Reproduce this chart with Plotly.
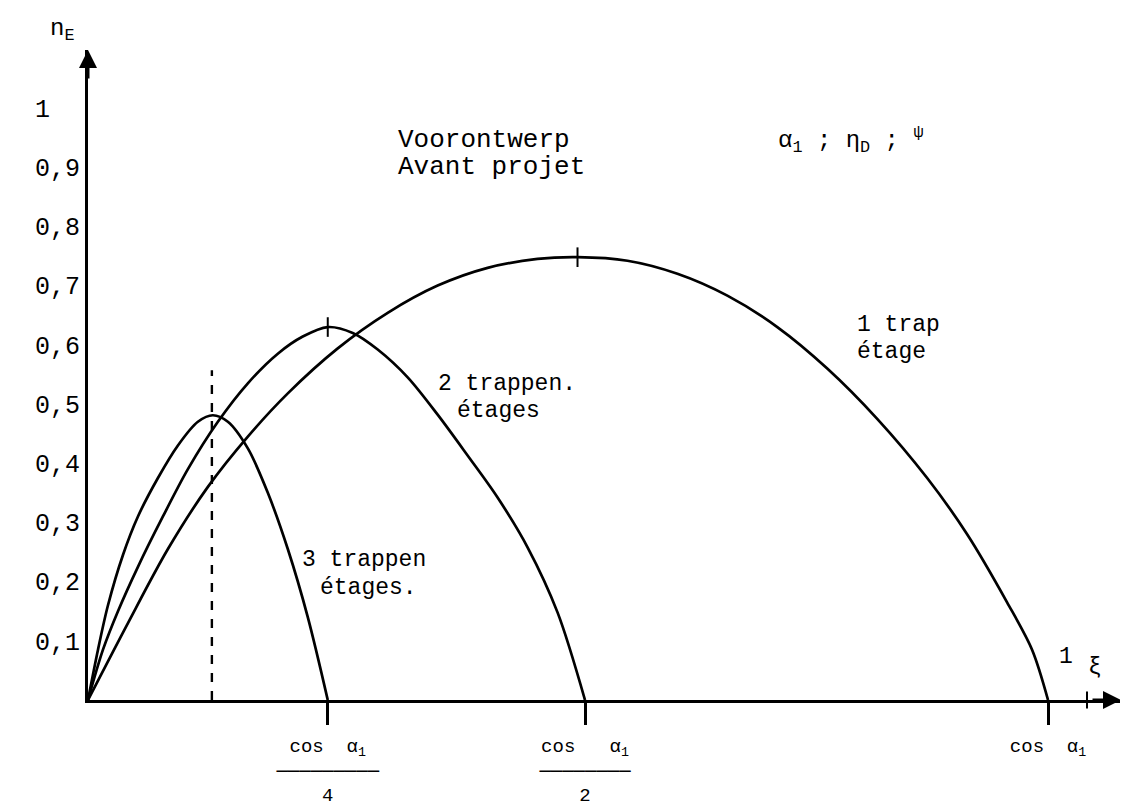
import plotly.graph_objects as go

# ---------------- data ----------------
# 1 trap / étage
xi_1 = [0.0, 0.04, 0.08, 0.12, 0.16, 0.20, 0.25, 0.30, 0.35, 0.40, 0.45, 0.49,
        0.54, 0.59, 0.64, 0.69, 0.74, 0.79, 0.84, 0.88, 0.92, 0.945, 0.961]
eta_1 = [0.0, 0.130, 0.255, 0.360, 0.445, 0.518, 0.594, 0.654, 0.700, 0.730, 0.745, 0.748,
         0.742, 0.720, 0.683, 0.630, 0.560, 0.475, 0.375, 0.280, 0.165, 0.085, 0.0]

# 2 trappen / étages
xi_2 = [0.0, 0.015, 0.03, 0.05, 0.075, 0.10, 0.13, 0.16, 0.19, 0.215, 0.24, 0.265,
        0.29, 0.32, 0.35, 0.38, 0.41, 0.44, 0.47, 0.4975]
eta_2 = [0.0, 0.085, 0.150, 0.225, 0.310, 0.390, 0.470, 0.535, 0.585, 0.614, 0.630, 0.620,
         0.592, 0.545, 0.482, 0.413, 0.342, 0.258, 0.148, 0.0]

# 3 trappen / étages
xi_3 = [0.0, 0.01, 0.02, 0.035, 0.05, 0.07, 0.09, 0.11, 0.125, 0.14, 0.16, 0.18,
        0.20, 0.22, 0.24]
eta_3 = [0.0, 0.085, 0.160, 0.245, 0.310, 0.375, 0.430, 0.470, 0.481, 0.470, 0.425, 0.350,
         0.255, 0.140, 0.0]

# peak marks on curves 1 and 2
peak_xi = [0.49, 0.24]
peak_eta = [0.748, 0.630]

# dashed vertical line (optimum of the 3-stage curve)
dash_xi = [0.124, 0.124]
dash_eta = [0.0, 0.557]

# axis ticks
y_tick_vals = [0.1, 0.2, 0.3, 0.4, 0.5, 0.6, 0.7, 0.8, 0.9, 1.0]
y_tick_text = ["0,1", "0,2", "0,3", "0,4", "0,5", "0,6", "0,7", "0,8", "0,9", "1\u00a0\u00a0"]
x_tick_vals = [0.24, 0.4975, 0.961]
x_tick_text = ["cos\u00a0\u00a0α<sub>1</sub><br>─────────<br>4",
               "cos\u00a0\u00a0\u00a0α<sub>1</sub><br>────────<br>2",
               "cos\u00a0\u00a0α<sub>1</sub>"]
xi_unit_tick = [1.0]

# ---------------- layout helpers ----------------
OFF = 8                        # page body margin of the html page
SCREEN_W, SCREEN_H = 1128, 806
W, H = SCREEN_W - OFF, SCREEN_H - OFF
AX_X, AX_Y, TOP = 88, 700, 50  # screen positions of the axes origin and the top of the plot
L = AX_X - OFF
T = TOP - OFF
B = H - (AX_Y - OFF)
R = 0
X_RANGE = [0, (W - L - R) / 999.0]
Y_RANGE = [0, (H - T - B) / 592.0]
FONT = "Liberation Mono, DejaVu Sans Mono, Courier New, monospace"


def px(x):
    return (x - AX_X) / (W - L - R)


def py(y):
    return (AX_Y - y) / (H - T - B)


line_style = dict(color="black", width=2.7)
spline = dict(shape="spline", smoothing=0.9)

fig = go.Figure()
fig.add_trace(go.Scatter(x=xi_1, y=eta_1, mode="lines", line=dict(**line_style, **spline),
                         name="1 trap", cliponaxis=False))
fig.add_trace(go.Scatter(x=xi_2, y=eta_2, mode="lines", line=dict(**line_style, **spline),
                         name="2 trappen", cliponaxis=False))
fig.add_trace(go.Scatter(x=xi_3, y=eta_3, mode="lines", line=dict(**line_style, **spline),
                         name="3 trappen", cliponaxis=False))
fig.add_trace(go.Scatter(x=dash_xi, y=dash_eta, mode="lines",
                         line=dict(color="black", width=2.4, dash="dash")))
fig.add_trace(go.Scatter(x=peak_xi, y=peak_eta, mode="markers",
                         marker=dict(symbol="line-ns-open", size=14, color="black",
                                     line=dict(color="black", width=2))))
fig.add_trace(go.Scatter(x=xi_unit_tick, y=[0.0], mode="markers",
                         marker=dict(symbol="line-ns-open", size=12, color="black",
                                     line=dict(color="black", width=2)),
                         cliponaxis=False))

fig.update_xaxes(range=X_RANGE, showgrid=False, zeroline=False, showline=True, linecolor="black", linewidth=3,
                 tickmode="array", tickvals=x_tick_vals, ticktext=x_tick_text, ticks="outside",
                 ticklen=22, tickwidth=3, tickcolor="black", ticklabelstandoff=4, automargin=False,
                 tickfont=dict(family=FONT, size=19, color="black"), fixedrange=True)
fig.update_yaxes(range=Y_RANGE, showgrid=False, zeroline=False, showline=True, linecolor="black", linewidth=3,
                 tickmode="array", tickvals=y_tick_vals, ticktext=y_tick_text, ticks="",
                 ticklabelstandoff=0, automargin=False,
                 tickfont=dict(family=FONT, size=25, color="black"), fixedrange=True)


def label(x, y, text, size=23):
    return dict(x=px(x), y=py(y), xref="paper", yref="paper", text=text, xanchor="left",
                yanchor="middle", showarrow=False, font=dict(family=FONT, size=size, color="black"))


annotations = [
    # axis arrows
    dict(x=X_RANGE[1] - 0.007, y=0, ax=-30, ay=0, xref="x", yref="y", showarrow=True,
         arrowhead=2, arrowsize=1.2, arrowwidth=3, arrowcolor="black", text=""),
    dict(x=0, y=Y_RANGE[1], ax=0, ay=30, xref="x", yref="y", showarrow=True,
         arrowhead=2, arrowsize=1.2, arrowwidth=3, arrowcolor="black", text=""),
    # axis names
    label(48, 30, "n<sub>E</sub>", 24),
    label(1086, 668, "ξ", 23),
    label(1057, 657, "1", 23),
    # headings
    label(396, 140, "Voorontwerp", 26),
    label(396, 167, "Avant projet", 26),
    label(776, 140, "α<sub>1</sub> ; η<sub>D</sub> ; <sup>ψ</sup>", 24),
    # curve labels
    label(855, 325, "1 trap", 23),
    label(855, 352, "étage", 23),
    label(436, 384, "2 trappen.", 23),
    label(455, 411, "étages", 23),
    label(300, 560, "3 trappen", 23),
    label(318, 588, "étages.", 23),
]

fig.update_layout(width=W, height=H, margin=dict(l=L, r=R, t=T, b=B, pad=0),
                  plot_bgcolor="white", paper_bgcolor="white", annotations=annotations,
                  showlegend=False)

fig.write_html("out.html")
